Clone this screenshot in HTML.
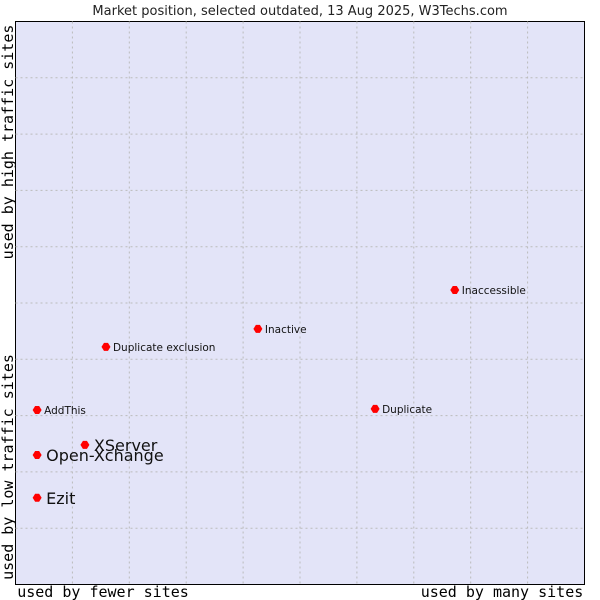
<!DOCTYPE html>
<html><head><meta charset="utf-8"><style>
body{margin:0;background:#fff;}
svg{display:block;font-family:"DejaVu Sans","Liberation Sans",sans-serif;}
</style></head><body>
<svg width="600" height="600" viewBox="0 0 600 600">
<text x="300" y="15" text-anchor="middle" font-size="13" fill="#222">Market position, selected outdated, 13 Aug 2025, W3Techs.com</text>
<rect x="15.5" y="21.5" width="569" height="563" fill="#e3e4f8" stroke="#000" stroke-width="1"/>
<g id="grid"></g>
<g id="pts"></g>
<text x="103" y="597" text-anchor="middle" font-family="'DejaVu Sans Mono','Liberation Mono',monospace" font-size="15">used by fewer sites</text>
<text x="502" y="597" text-anchor="middle" font-family="'DejaVu Sans Mono','Liberation Mono',monospace" font-size="15">used by many sites</text>
<text transform="translate(13,142) rotate(-90)" text-anchor="middle" font-family="'DejaVu Sans Mono','Liberation Mono',monospace" font-size="15">used by high traffic sites</text>
<text transform="translate(13,467) rotate(-90)" text-anchor="middle" font-family="'DejaVu Sans Mono','Liberation Mono',monospace" font-size="15">used by low traffic sites</text>
</svg>
<script>
const names=["AddThis","Open-Xchange","Ezit","XServer","Duplicate exclusion","Inactive","Duplicate","Inaccessible"];
const xValues=[3.8,3.8,3.8,12.2,15.9,42.6,63.2,77.2];
const yValues=[31.0,23.0,15.4,24.8,42.2,45.4,31.2,52.3];
const bigLabels=[false,true,true,true,false,false,false,false];
const NS="http://www.w3.org/2000/svg";
const X0=15.5,X1=584.5,Y0=584.5,Y1=21.5;
const sx=v=>X0+(X1-X0)*v/100, sy=v=>Y0-(Y0-Y1)*v/100;
const grid=document.getElementById('grid');
for(let i=1;i<10;i++){
  const v=document.createElementNS(NS,'line');
  
  
  v.setAttribute('x1',sx(i*10));v.setAttribute('x2',sx(i*10));v.setAttribute('y1',Y1);v.setAttribute('y2',Y0);
  v.setAttribute('stroke','#bbbbbb');v.setAttribute('stroke-dasharray','2,3');grid.appendChild(v);
  const h=document.createElementNS(NS,'line');
  
  
  h.setAttribute('y1',sy(i*10));h.setAttribute('y2',sy(i*10));h.setAttribute('x1',X0);h.setAttribute('x2',X1);
  h.setAttribute('stroke','#bbbbbb');h.setAttribute('stroke-dasharray','2,3');grid.appendChild(h);
}
const pts=document.getElementById('pts');
names.forEach((n,i)=>{
  const x=sx(xValues[i]),y=sy(yValues[i]);
  const p=document.createElementNS(NS,'polygon');
  
  
  p.setAttribute('points',`${x-4.5},${y} ${x-2},${y-4} ${x+2},${y-4} ${x+4.5},${y} ${x+2},${y+4} ${x-2},${y+4}`);
  p.setAttribute('fill','#ff0000');pts.appendChild(p);
  const t=document.createElementNS(NS,'text');
  
  
  const big=bigLabels[i];
  t.setAttribute('x',x+(big?9:7));t.setAttribute('y',y+(big?6:4));
  t.setAttribute('font-size',big?16:10.5);t.setAttribute('fill','#111');
  t.textContent=n;pts.appendChild(t);
});
</script>
</body></html>
